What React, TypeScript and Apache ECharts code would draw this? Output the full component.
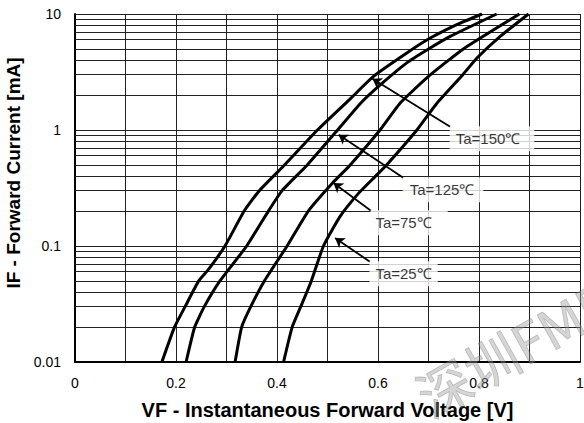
import React, { useEffect, useRef } from 'react';
import * as echarts from 'echarts';

// [VF (V), IF (mA)]
const ta150: number[][] = [
  [0.172, 0.01], [0.197, 0.02], [0.218, 0.03], [0.245, 0.05], [0.264, 0.0625], [0.297, 0.1],
  [0.335, 0.2], [0.365, 0.3], [0.415, 0.5], [0.48, 1], [0.543, 1.82], [0.591, 2.9],
  [0.657, 4.61], [0.7, 6.08], [0.756, 8.09], [0.806, 10],
];
const ta125: number[][] = [
  [0.22, 0.01], [0.237, 0.02], [0.256, 0.03], [0.287, 0.05], [0.34, 0.1], [0.383, 0.2],
  [0.41, 0.3], [0.46, 0.5], [0.52, 1], [0.566, 1.71], [0.605, 2.46], [0.657, 3.79],
  [0.7, 4.99], [0.743, 6.41], [0.835, 10],
];
const ta75: number[][] = [
  [0.317, 0.01], [0.33, 0.02], [0.348, 0.03], [0.375, 0.05], [0.42, 0.1], [0.462, 0.2],
  [0.51, 0.349], [0.545, 0.5], [0.604, 1], [0.644, 1.71], [0.7, 2.9], [0.769, 5], [0.88, 10],
];
const ta25: number[][] = [
  [0.413, 0.01], [0.43, 0.02], [0.447, 0.03], [0.468, 0.05], [0.492, 0.1], [0.525, 0.18],
  [0.56, 0.28], [0.59, 0.38], [0.617, 0.5], [0.677, 1], [0.717, 1.71], [0.768, 3],
  [0.796, 4.18], [0.842, 6.41], [0.898, 10],
];

const curveNames = ['Ta=150℃', 'Ta=125℃', 'Ta=75℃', 'Ta=25℃'];
const curves = [ta150, ta125, ta75, ta25];

// annotation: label box corner (= arrow tail) and arrow tip, in data coords
const labelAnchors: number[][] = [[0.743, 1.068], [0.65, 0.388], [0.586, 0.2015], [0.584, 0.0732]];
const arrowTips: number[][] = [[0.589, 2.77], [0.522, 0.911], [0.512, 0.349], [0.515, 0.117]];
const labelPads: number[][] = [[5, 14, 5, 6], [5, 9, 5, 7], [5, 16, 5, 5], [5, 6, 5, 6]];

const decades = [0.01, 0.1, 1];
const minorSteps = [2, 3, 4, 5, 6, 7, 8, 9];

const xAxisName = 'VF - Instantaneous Forward Voltage [V]';
const yAxisName = 'IF - Forward Current [mA]';
const watermark = '深圳FMD';

const FONT = 'Liberation Sans, Arial, sans-serif';

export default function App() {
  const ref = useRef<HTMLDivElement>(null);
  useEffect(() => {
    const chart = echarts.init(ref.current!, null, { renderer: 'svg' });
    const minorLines: number[] = [];
    decades.forEach((d) => minorSteps.forEach((k) => minorLines.push(Number((d * k).toPrecision(3)))));

    const option: any = {
      animation: false,
      backgroundColor: '#fff',
      grid: { left: 75, right: 4, top: 14, bottom: 61, containLabel: false, outerBoundsMode: 'none' },
      xAxis: {
        type: 'value',
        min: 0,
        max: 1,
        interval: 0.1,
        name: xAxisName,
        nameLocation: 'middle',
        nameGap: 38,
        nameTextStyle: { fontSize: 20, fontWeight: 'bold', fontFamily: FONT, color: '#000' },
        axisLine: { show: true, onZero: false, lineStyle: { color: '#000', width: 2 } },
        axisTick: { show: false },
        axisLabel: {
          fontSize: 14,
          fontFamily: FONT,
          color: '#000',
          margin: 14,
          formatter: (v: number) => {
            const t = Math.round(v * 10);
            return t % 2 === 0 ? String(t / 10) : '';
          },
        },
        splitLine: { show: true, lineStyle: { color: '#222', width: 1 } },
      },
      yAxis: {
        type: 'log',
        logBase: 10,
        min: 0.01,
        max: 10,
        name: yAxisName,
        nameLocation: 'middle',
        nameGap: 52,
        nameTextStyle: {
          fontSize: 19,
          fontWeight: 'bold',
          fontFamily: FONT,
          color: '#000',
          padding: [0, 0, 0, 30],
        },
        axisLine: { show: true, lineStyle: { color: '#000', width: 2 } },
        axisTick: { show: false },
        axisLabel: {
          fontSize: 14,
          fontFamily: FONT,
          color: '#000',
          margin: 14,
          formatter: (v: number) => String(Number(v.toPrecision(3))),
        },
        splitLine: { show: true, lineStyle: { color: '#222', width: 1 } },
      },
      graphic: [
        {
          type: 'text',
          x: 420,
          y: 399,
          rotation: 0.51,
          silent: true,
          z: 100,
          style: {
            text: watermark,
            fontSize: 54,
            fontFamily: 'Noto Sans CJK SC',
            fill: 'rgba(150,150,150,0.4)',
            stroke: 'rgba(90,90,90,0.35)',
            lineWidth: 0.8,
            align: 'left',
            verticalAlign: 'middle',
          },
        },
      ],
      series: [
        {
          type: 'line',
          name: 'minor-grid',
          data: [],
          silent: true,
          markLine: {
            silent: true,
            symbol: 'none',
            z: 1,
            label: { show: false },
            lineStyle: { color: '#222', width: 1, type: 'solid' },
            emphasis: { disabled: true },
            data: minorLines.map((v) => ({ yAxis: v })),
          },
        },
        ...curves.map((c, i) => ({
          type: 'line',
          name: curveNames[i],
          data: c,
          showSymbol: false,
          symbol: 'none',
          smooth: 0.15,
          z: 3,
          lineStyle: { color: '#000', width: 3 },
        })),
        {
          type: 'line',
          name: 'arrows',
          data: [],
          silent: true,
          markLine: {
            silent: true,
            symbol: ['none', 'arrow'],
            symbolSize: 9,
            z: 6,
            label: { show: false },
            lineStyle: { color: '#000', width: 1.8, type: 'solid', opacity: 1 },
            itemStyle: { color: '#000' },
            emphasis: { disabled: true },
            data: labelAnchors.map((a, i) => [
              { coord: a, symbol: 'none' },
              { coord: arrowTips[i], symbol: 'arrow', symbolSize: 9 },
            ]),
          },
        },
        {
          type: 'scatter',
          name: 'labels',
          z: 10,
          symbol: 'circle',
          symbolSize: 1,
          itemStyle: { color: 'rgba(0,0,0,0)' },
          silent: true,
          data: labelAnchors.map((a, i) => ({
            value: a,
            label: {
              show: true,
              position: [0, 0],
              formatter: curveNames[i],
              backgroundColor: '#fff',
              padding: labelPads[i],
              fontSize: 15,
              fontFamily: FONT,
              color: '#000',
            },
          })),
        },
      ],
    };
    chart.setOption(option);
    return () => chart.dispose();
  }, []);
  return (
    <div
      ref={ref}
      style={{ position: 'fixed', left: 0, top: 0, width: 584, height: 423 }}
    />
  );
}
